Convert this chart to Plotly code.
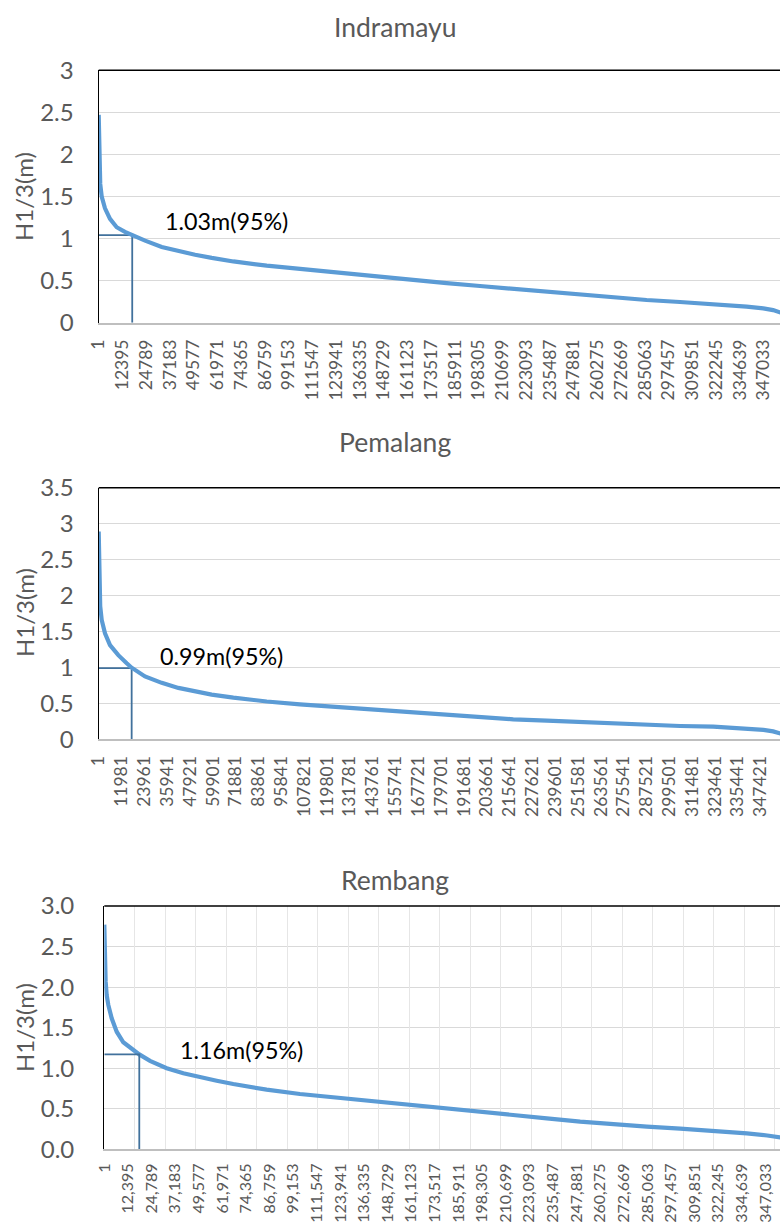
import plotly.graph_objects as go

# ---------------- data ----------------
# Indramayu: sorted significant wave height (duration curve)
ind_idx = [1, 150, 450, 800, 1570, 3290, 5900, 9390, 13700, 17500, 24200, 32900, 41500,
           50300, 59000, 70300, 87700, 105000, 122500, 139900, 157300, 164200, 181600,
           199000, 216400, 233800, 251200, 268600, 286000, 303400, 320800, 338200, 346900,
           352000, 356000]
ind_val = [2.47, 2.1, 1.8, 1.65, 1.50, 1.36, 1.235, 1.135, 1.08, 1.04, 0.975, 0.90, 0.85,
           0.808, 0.77, 0.728, 0.678, 0.638, 0.603, 0.568, 0.528, 0.512, 0.47,
           0.436, 0.404, 0.369, 0.333, 0.297, 0.27, 0.246, 0.222, 0.19, 0.17,
           0.15, 0.12]
ind_p95_idx = 17500
ind_p95_val = 1.04
ind_p95_text = "1.03m(95%)"

# Pemalang
pem_idx = [1, 150, 450, 800, 1575, 3300, 5930, 10290, 14700, 17300, 24300, 33070, 41800,
           50550, 59300, 70700, 88200, 105600, 123100, 140600, 158100, 165100, 182700,
           200200, 217600, 235200, 252700, 270200, 287700, 305200, 322600, 340100, 348900,
           354000, 358000]
pem_val = [2.89, 2.4, 2.05, 1.85, 1.66, 1.475, 1.31, 1.17, 1.057, 0.996, 0.875, 0.785, 0.715,
           0.664, 0.622, 0.58, 0.526, 0.487, 0.454, 0.42, 0.385, 0.371, 0.338,
           0.306, 0.278, 0.26, 0.241, 0.218, 0.204, 0.185, 0.176, 0.153, 0.13,
           0.11, 0.08]
pem_p95_idx = 17300
pem_p95_val = 0.99
pem_p95_text = "0.99m(95%)"

# Rembang
rem_idx = [1, 150, 400, 700, 1260, 2100, 3880, 6510, 9970, 14380, 18370, 23990, 32760,
           41470, 50240, 59000, 67700, 85200, 102700, 120200, 137700, 155200, 162200,
           179700, 197200, 214800, 232300, 249800, 267300, 284800, 302300, 319800, 337300,
           348000, 355000]
rem_val = [2.77, 2.45, 2.2, 2.07, 1.90, 1.78, 1.615, 1.45, 1.32, 1.235, 1.17, 1.09, 1.0,
           0.937, 0.888, 0.846, 0.805, 0.735, 0.682, 0.64, 0.60, 0.555, 0.545,
           0.506, 0.464, 0.423, 0.382, 0.341, 0.308, 0.279, 0.255, 0.23, 0.197,
           0.17, 0.145]
rem_p95_idx = 18370
rem_p95_val = 1.17
rem_p95_text = "1.16m(95%)"

# category tick labels
ticks_ind = [1, 12395, 24789, 37183, 49577, 61971, 74365, 86759, 99153, 111547, 123941,
             136335, 148729, 161123, 173517, 185911, 198305, 210699, 223093, 235487,
             247881, 260275, 272669, 285063, 297457, 309851, 322245, 334639, 347033]
ticks_pem = [1, 11981, 23961, 35941, 47921, 59901, 71881, 83861, 95841, 107821, 119801,
             131781, 143761, 155741, 167721, 179701, 191681, 203661, 215641, 227621,
             239601, 251581, 263561, 275541, 287521, 299501, 311481, 323461, 335441, 347421]
ticks_rem = ticks_ind
labels_ind = [str(v) for v in ticks_ind]
labels_pem = [str(v) for v in ticks_pem]
labels_rem = [f"{v:,}" for v in ticks_rem]
rem_grid_step = 16000   # spacing of the vertical gridlines in the Rembang panel

titles = ["Indramayu", "Pemalang", "Rembang"]
y_title = "H1/3(m)"

# ---------------- styling / layout ----------------
W, H = 780, 1226
FONT = "Lato, Calibri, Carlito, sans-serif"
GRAY = "#595959"
CURVE = "#5B9BD5"
MARK = "#41719C"


def px(p):
    return p / W


def py(p):
    return 1 - p / H


# plot-area boxes in pixels: (left, top, bottom)
boxes = [(98.7, 70.3, 322.7), (98.7, 487.7, 739.3), (104.3, 906.0, 1149.3)]
title_y = [27, 442, 880]
ytitle_y = [197, 613, 1028]
ann_pos = [(163, 221), (157.7, 655.7), (178.3, 1050)]
xranges = [[0, 355600], [0, 357600], [0, 354700]]
yranges = [[0, 3], [0, 3.5], [0, 3.0]]
yfmt = ["", "", ".1f"]
ystandoff = [19, 19, 24]
xfont = [17.5, 17.5, 16]
xstandoff = [8, 8, 6]

series = [(ind_idx, ind_val, ind_p95_idx, ind_p95_val, ind_p95_text, ticks_ind, labels_ind),
          (pem_idx, pem_val, pem_p95_idx, pem_p95_val, pem_p95_text, ticks_pem, labels_pem),
          (rem_idx, rem_val, rem_p95_idx, rem_p95_val, rem_p95_text, ticks_rem, labels_rem)]

fig = go.Figure()
layout = dict(width=W, height=H, margin=dict(l=0, r=0, t=0, b=0, pad=0, autoexpand=False),
              paper_bgcolor="white", plot_bgcolor="white", showlegend=False,
              font=dict(family=FONT, color=GRAY))
annotations = []
shapes = []

for i, (xs, ys, pidx, pval, ptxt, tv, tt) in enumerate(series):
    n = "" if i == 0 else str(i + 1)
    xa, ya = "x" + n, "y" + n
    left, top, bottom = boxes[i]
    # Rembang: marker lines on an overlaid x-axis that carries the vertical gridlines
    mark_xa = "x4" if i == 2 else xa
    fig.add_trace(go.Scatter(x=[0, pidx, pidx], y=[pval, pval, 0], mode="lines",
                             line=dict(color=MARK, width=1.8), xaxis=mark_xa, yaxis=ya,
                             hoverinfo="skip"))
    fig.add_trace(go.Scatter(x=xs, y=ys, mode="lines",
                             line=dict(color=CURVE, width=4.2), xaxis=xa, yaxis=ya))
    xaxis = dict(domain=[px(left), 1], anchor=ya, range=xranges[i], automargin=False,
                 tickmode="array", tickvals=tv, ticktext=tt, tickangle=-90,
                 tickfont=dict(family=FONT, size=xfont[i], color=GRAY),
                 ticks="", ticklabelstandoff=xstandoff[i],
                 showline=True, linecolor="#bfbfbf", linewidth=1.6,
                 showgrid=False, zeroline=False)
    yaxis = dict(domain=[py(bottom), py(top)], anchor=xa, range=yranges[i], automargin=False,
                 dtick=0.5, tick0=0, tickformat=yfmt[i],
                 tickfont=dict(family=FONT, size=24, color=GRAY),
                 ticks="", ticklabelstandoff=ystandoff[i],
                 showline=True, linecolor="black", linewidth=1.4,
                 showgrid=True, gridcolor="#d9d9d9", gridwidth=1.2, zeroline=False)
    layout["xaxis" + n] = xaxis
    layout["yaxis" + n] = yaxis
    if i == 2:
        layout["xaxis4"] = dict(overlaying="x3", anchor="y3", range=xranges[i],
                                automargin=False, tickmode="linear", tick0=0,
                                dtick=rem_grid_step, showticklabels=False, ticks="",
                                showgrid=True, gridcolor="#e6e6e6", gridwidth=1,
                                showline=False, zeroline=False)
    # top border of the plot area
    shapes.append(dict(type="line", xref="paper", yref="paper",
                       x0=px(left), x1=1, y0=py(top), y1=py(top),
                       line=dict(color="black", width=1.4)))
    annotations.append(dict(text=titles[i], xref="paper", yref="paper",
                            x=px(395), y=py(title_y[i]), xanchor="center", yanchor="middle",
                            showarrow=False, font=dict(family=FONT, size=26.5, color=GRAY)))
    annotations.append(dict(text=y_title, xref="paper", yref="paper", textangle=-90,
                            x=px(24), y=py(ytitle_y[i]), xanchor="center", yanchor="middle",
                            showarrow=False, font=dict(family=FONT, size=24, color=GRAY)))
    annotations.append(dict(text=ptxt, xref="paper", yref="paper",
                            x=px(ann_pos[i][0]), y=py(ann_pos[i][1]),
                            xanchor="left", yanchor="middle", showarrow=False,
                            font=dict(family=FONT, size=23.3, color="black")))

layout["annotations"] = annotations
layout["shapes"] = shapes
fig.update_layout(**layout)
fig.write_html("out.html", config={"displayModeBar": False},
               post_script="document.body.style.margin='0px';"
                           "document.documentElement.style.overflow='hidden';")
